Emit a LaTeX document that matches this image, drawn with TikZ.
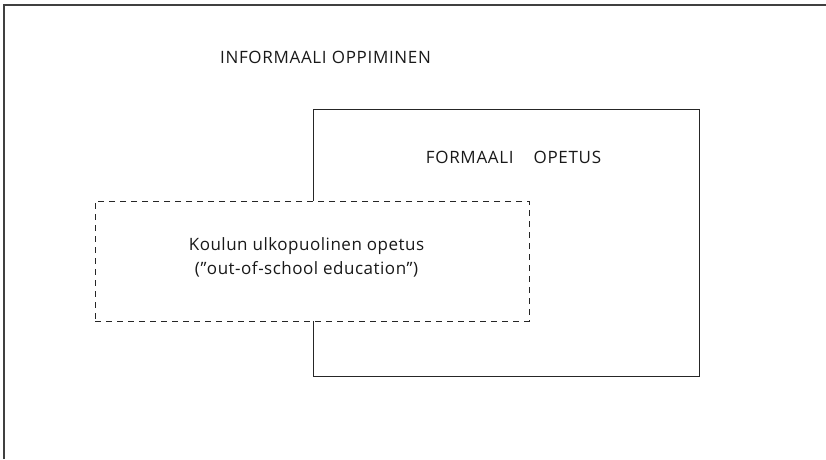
\documentclass[tikz,border=0pt]{standalone}
\usepackage{fontspec}
\setmainfont{Open Sans}
\newfontfamily\spacedcaps[LetterSpace=4]{Open Sans}
\newfontfamily\spacedbody[LetterSpace=3]{Open Sans}
\begin{document}
\begin{tikzpicture}[x=1pt,y=-1pt,
  frameline/.style={draw=black!75,line width=1.3pt},
  boxline/.style={draw=black!85,line width=1pt},
  label/.style={inner sep=0pt,text=black!90,align=center},
  capslabel/.style={label,font=\spacedcaps\fontsize{17}{24}\selectfont},
  textlabel/.style={label,font=\spacedbody\fontsize{17}{24}\selectfont}]
  \useasboundingbox (0,0) rectangle (826,459);
  % outer region: only its top and left edges fall inside the picture
  \coordinate (oa) at (4,459);
  \coordinate (ob) at (4,5);
  \coordinate (oc) at (826,5);
  \draw[frameline] (oa) -- (ob) -- (oc);
  \node[capslabel] (inf) at (325.5,57) {INFORMAALI OPPIMINEN};
  % formal teaching box
  \node[boxline,minimum width=386pt,minimum height=267pt,inner sep=0pt] (formal) at (506,242.5) {};
  \node[capslabel] (formaltxt) at (513.5,157) {FORMAALI\hspace{20pt}OPETUS};
  % out-of-school education box, laid over the formal box
  \node[boxline,dash pattern=on 6pt off 5pt,fill=white,minimum width=434pt,minimum height=120pt,inner sep=0pt] (outschool) at (312,261) {};
  \node[textlabel] (outtxt) at (306.5,257) {Koulun ulkopuolinen opetus\\(”out-of-school education”)};
\end{tikzpicture}
\end{document}
